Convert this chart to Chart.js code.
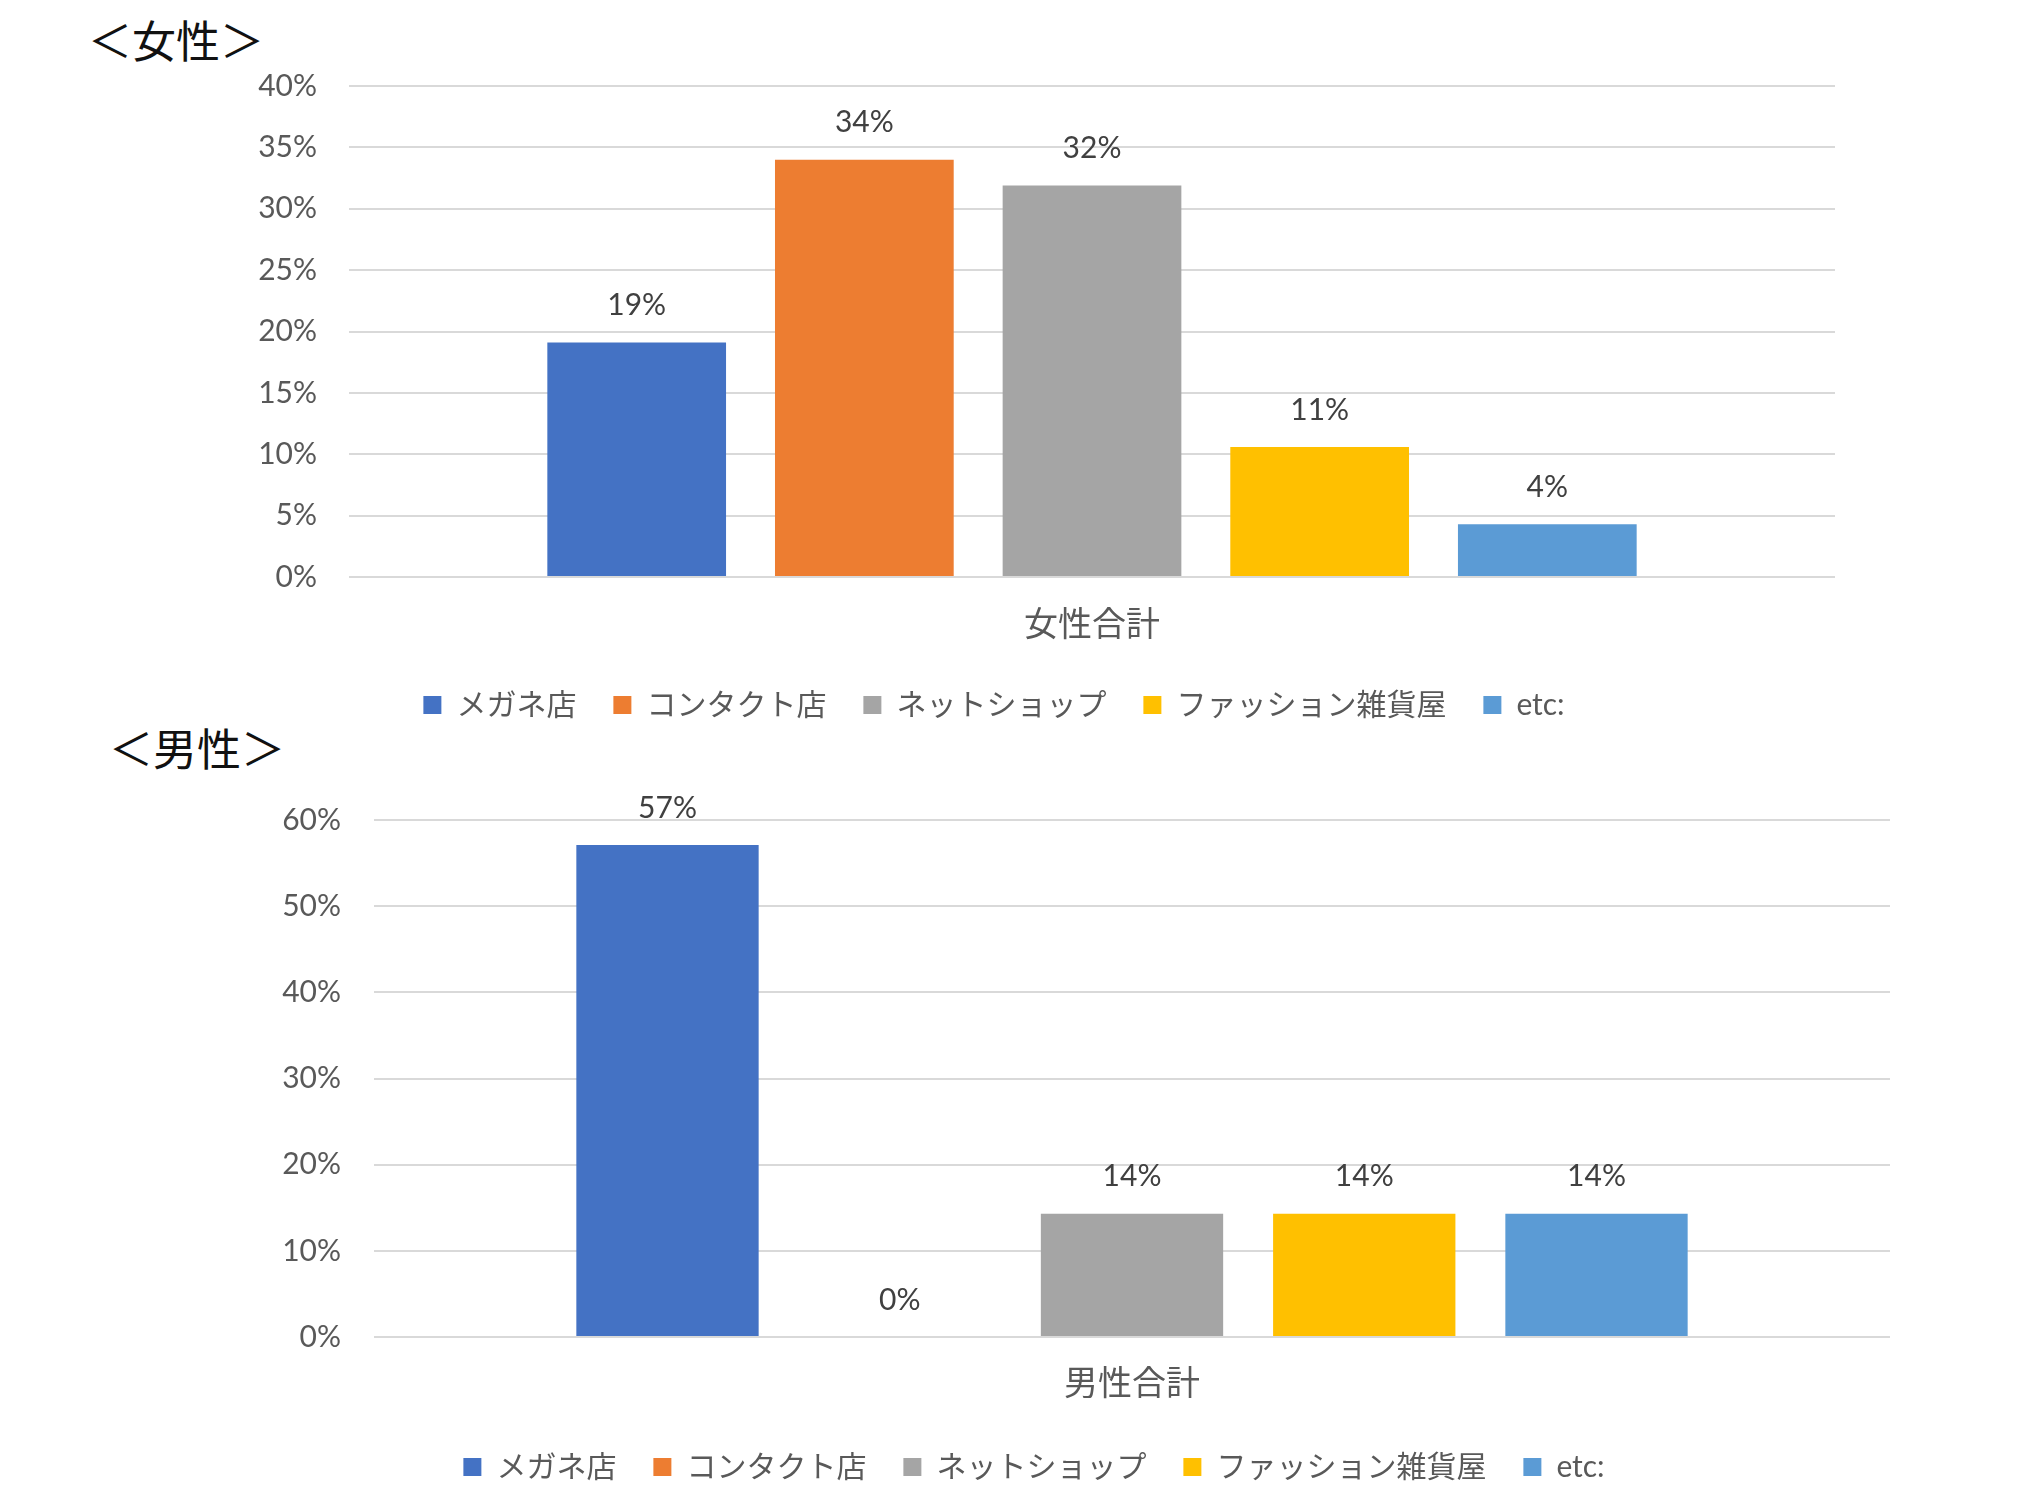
<!DOCTYPE html>
<html lang="ja">
<head>
<meta charset="utf-8">
<title>購入場所 女性・男性</title>
<script src="https://cdn.jsdelivr.net/npm/chart.js@4.4.1/dist/chart.umd.min.js"></script>
<style>
  body { margin: 0; background: #fff; width: 2043px; height: 1512px; overflow: hidden; position: relative; }
  .title { position: absolute; font-family: "Noto Sans CJK JP", sans-serif; font-size: 44px; line-height: 44px; color: #111; white-space: nowrap; }
  canvas { position: absolute; left: 0; }
</style>
</head>
<body>
<div class="title" id="titleWomen" style="left:88px; top:17px;">＜女性＞</div>
<div class="title" id="titleMen" style="left:109px; top:725px;">＜男性＞</div>
<canvas id="womenChart" width="2043" height="745" style="top:0; width:2043px; height:745px;"></canvas>
<canvas id="menChart" width="2043" height="767" style="top:745px; width:2043px; height:767px;"></canvas>
<script>
// series (shared by both charts)
const seriesNames = ['メガネ店', 'コンタクト店', 'ネットショップ', 'ファッション雑貨屋', 'etc:'];
const seriesColors = ['#4472C4', '#ED7D31', '#A5A5A5', '#FFC000', '#5B9BD5'];

// women
const womenCategory = ['女性合計'];
const womenValues = [19.1, 34.0, 31.9, 10.6, 4.3];
const womenMax = 40;
const womenStep = 5;

// men
const menCategory = ['男性合計'];
const menValues = [57.1, 0, 14.3, 14.3, 14.3];
const menMax = 60;
const menStep = 10;

Chart.defaults.font.family = 'Lato, "Noto Sans CJK JP", sans-serif';
Chart.defaults.font.size = 30;
Chart.defaults.color = '#595959';

// value labels above each bar
const barLabels = {
    id: 'barLabels',
    afterDatasetsDraw(chart) {
        const ctx = chart.ctx;
        ctx.save();
        ctx.font = '30px Lato, "Noto Sans CJK JP", sans-serif';
        ctx.fillStyle = '#404040';
        ctx.textAlign = 'center';
        ctx.textBaseline = 'middle';
        chart.data.datasets.forEach((ds, i) => {
            chart.getDatasetMeta(i).data.forEach((bar, j) => {
                ctx.fillText(Math.round(ds.data[j]) + '%', bar.x, bar.y - 37);
            });
        });
        ctx.restore();
    }
};

function makeChart(id, category, values, yMax, yStep, box) {
    const ctx = document.getElementById(id).getContext('2d');
    return new Chart(ctx, {
        type: 'bar',
        data: {
            labels: category,
            datasets: seriesNames.map((name, i) => ({
                label: name,
                data: [values[i]],
                backgroundColor: seriesColors[i],
                borderWidth: 0,
                categoryPercentage: 0.766,
                barPercentage: 0.785
            }))
        },
        options: {
            responsive: false,
            animation: false,
            devicePixelRatio: 1,
            layout: {
                padding: { top: box.top, left: box.left, right: box.right, bottom: box.bottom }
            },
            plugins: {
                legend: {
                    position: 'bottom',
                    labels: {
                        boxWidth: 18,
                        boxHeight: 18,
                        padding: 37,
                        color: '#595959',
                        font: { size: 30 }
                    }
                },
                tooltip: { enabled: false }
            },
            scales: {
                x: {
                    grid: { display: false },
                    border: { display: false },
                    ticks: { padding: box.xPad, color: '#595959', font: { size: 34 } },
                    afterFit: (scale) => { scale.height = box.xHeight; }
                },
                y: {
                    min: 0,
                    max: yMax,
                    ticks: {
                        stepSize: yStep,
                        padding: box.yPad,
                        color: '#595959',
                        callback: v => v + '%'
                    },
                    grid: { color: '#d9d9d9', lineWidth: 2, drawTicks: false },
                    border: { display: false },
                    afterFit: (scale) => { scale.width = box.yWidth; }
                }
            }
        },
        plugins: [barLabels]
    });
}

makeChart('womenChart', womenCategory, womenValues, womenMax, womenStep,
    { top: 86, left: 153, right: 208, bottom: 15, xPad: 20, xHeight: 76, yPad: 32, yWidth: 196 });

makeChart('menChart', menCategory, menValues, menMax, menStep,
    { top: 75, left: 178, right: 153, bottom: 20, xPad: 19, xHeight: 78, yPad: 33, yWidth: 196 });
</script>
</body>
</html>
